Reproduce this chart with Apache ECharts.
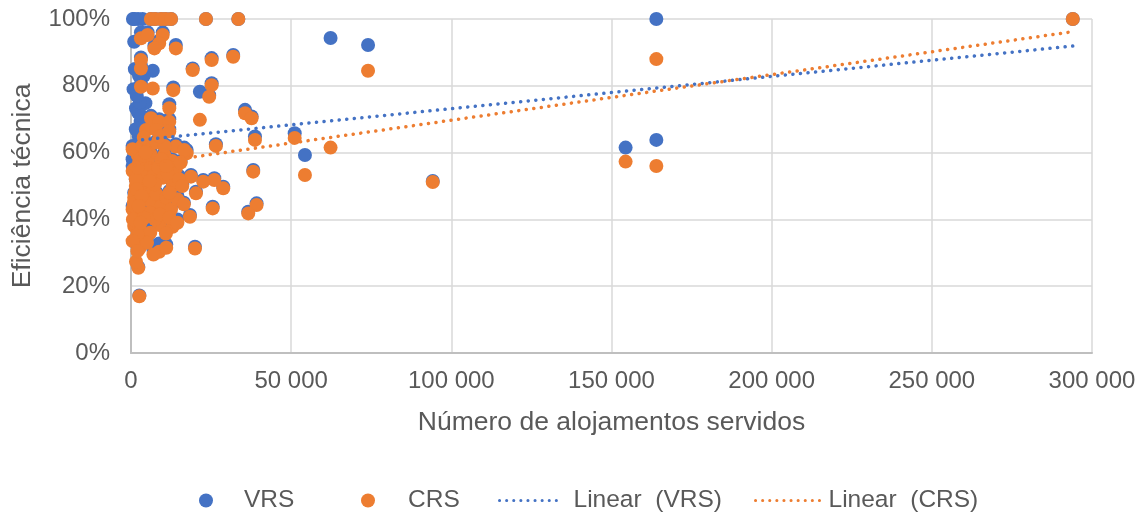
<!DOCTYPE html>
<html>
<head>
<meta charset="utf-8">
<script src="https://cdn.jsdelivr.net/npm/echarts@6/dist/echarts.min.js"></script>
<style>
html,body{margin:0;padding:0;background:#fff;}
#chart{width:1143px;height:513px;}
</style>
</head>
<body>
<div id="chart"></div>
<script>
// Número de alojamentos servidos per unit
const alojamentos = [
  1000, 2200, 3600, 6200, 7600, 9400, 10800, 12500, 23400, 33500,
  294000, 164000, 62300, 74000, 154400, 164000, 54300, 51100, 94200, 38700,
  35600, 37650, 38160, 39200, 36600, 31900, 25170, 25170, 24400, 21500,
  19250, 26500, 28800, 26000, 22560, 20280, 18720, 25500, 18400, 19970,
  17370, 14000, 13200, 11950, 2600, 2290, 1000, 3100, 5200, 9900,
  8800, 7300, 3100, 3100, 6800, 3100, 1560, 3650, 4500, 2200,
  6240, 8800, 11950, 4680, 7800, 11950, 14000, 16600, 2100, 6240,
  10400, 14000, 2600, 8800, 13000, 3600, 10900, 8800, 2600, 1560,
  500, 1500, 2500, 4000, 5500, 7000, 8500, 10000, 11500, 13000,
  1000, 3000, 5000, 6500, 8000, 9500, 11000, 12500, 1800, 4200,
  6000, 7500, 9000, 12000, 500, 3500, 5500, 8000, 10500, 4000,
  9000, 3000, 14500, 15000, 6000, 11000, 5000, 7000, 12800, 15500,
  500, 2000, 600, 1200, 2500, 800, 1500, 2800, 900, 4000,
  3000, 500, 2000, 16000, 14500, 16500, 9500, 4500, 7500, 2000,
  11000, 5800, 12000, 1800, 3300, 2400
];
// Eficiência técnica (%) – VRS
const eficienciaVRS = [
  100, 100, 100, 100, 100, 100, 100, 100, 100, 100,
  100, 100, 94.3, 92.2, 61.5, 63.8, 59.3, 65.8, 51.5, 64.8,
  72.8, 70.8, 54.8, 44.8, 42.3, 89.2, 88.3, 80.8, 77.2, 78.2,
  85.2, 62.5, 49.8, 52.3, 51.8, 48.3, 53.3, 43.8, 41.3, 31.8,
  60.8, 92.2, 79.5, 74.5, 17.2, 25.8, 93.2, 96, 96, 96,
  93.5, 92, 88.5, 86, 84.5, 80.5, 73.3, 68.3, 74.8, 72,
  71, 70, 70, 67.5, 67.5, 67, 62.5, 61.5, 60, 60,
  60, 56, 38.5, 39, 38.5, 35.5, 36.5, 32.8, 31.8, 33,
  56, 52, 58, 55, 57, 54, 56, 53, 54, 51,
  48, 47, 49, 46, 48, 45, 47, 44, 43, 42,
  43, 41, 42, 41.5, 62, 63, 62, 63.5, 62.5, 66,
  65.5, 58, 47, 53, 38, 32.5, 34.5, 31, 58, 57.5,
  44, 52.5, 100, 85, 83, 79, 67, 75, 60.5, 83,
  69.5, 58, 43, 50.5, 40, 45, 58.5, 60.5, 51, 56.5,
  56.5, 52, 48.5, 77, 71, 65
];
// Eficiência técnica (%) – CRS
const eficienciaCRS = [
  55, 48, 50, 100, 100, 100, 100, 100, 100, 100,
  100, 88, 61.5, 84.5, 57.3, 56, 53.3, 64.4, 51.2, 63.8,
  71.8, 70.3, 54.3, 44.3, 41.8, 88.7, 87.7, 80.2, 76.7, 69.8,
  84.7, 62, 49.3, 51.8, 51.3, 47.8, 52.8, 43.3, 40.8, 31.3,
  59.8, 91.2, 78.7, 73.3, 17, 25.5, 38, 94.2, 95.2, 95.2,
  92.7, 91.2, 87.7, 85.2, 79.2, 79.7, 45, 42, 52, 36,
  70.3, 69.2, 69.2, 66.8, 66.8, 66.3, 61.8, 60.8, 59.3, 59.3,
  59.3, 55.3, 37.8, 38.3, 37.8, 34.8, 35.8, 30.3, 31.3, 27.3,
  54.5, 50, 57, 54, 56.5, 53, 55.5, 52.5, 53.5, 50,
  46.5, 45.5, 48, 45, 47.5, 44, 46.5, 43, 41.5, 40.5,
  42, 40, 41.5, 40.5, 61, 62, 61.5, 63, 62, 64.5,
  64.8, 50.5, 46, 52, 36, 31.5, 33, 29.5, 57.5, 57,
  43, 35.5, 40, 48, 46, 44, 52, 58, 45, 40.5,
  39, 33.5, 30.5, 50, 39, 44.5, 58, 60, 50.5, 55.5,
  56, 51.5, 48, 49, 47, 44
];
// Linear trend lines: [x, %]
const trendVRS = [[1250, 63.6], [294000, 91.9]];
const trendCRS = [[1250, 56.2], [294000, 96.2]];
// Axis ticks
const xTicks = { min: 0, max: 300000, interval: 50000 };
const yTicks = { min: 0, max: 100, interval: 20 };

const BLUE = '#4472C4', ORANGE = '#ED7D31', TXT = '#595959';
const FONT = 'Liberation Sans, Arial, sans-serif';

const vrsData = alojamentos.map((x, i) => [x, eficienciaVRS[i]]);
const crsData = alojamentos.map((x, i) => [x, eficienciaCRS[i]]);

const fmtThousands = v => String(v).replace(/\B(?=(\d{3})+(?!\d))/g, ' ');

const chart = echarts.init(document.getElementById('chart'), null, { renderer: 'canvas' });

const lt = pad => ({ color: TXT, fontSize: 24.5, fontFamily: FONT, padding: [0, 0, 0, pad] });

chart.setOption({
  animation: false,
  backgroundColor: '#fff',
  grid: { left: 131, right: 51, top: 19, bottom: 160, containLabel: false },
  xAxis: {
    type: 'value', min: xTicks.min, max: xTicks.max, interval: xTicks.interval,
    name: 'Número de alojamentos servidos', nameLocation: 'middle', nameGap: 56,
    nameTextStyle: { color: TXT, fontSize: 26.5, fontFamily: FONT },
    axisLine: { show: true, lineStyle: { color: '#BFBFBF', width: 2 } },
    axisTick: { show: false },
    splitLine: { show: true, lineStyle: { color: '#D9D9D9', width: 1.5 } },
    axisLabel: { color: TXT, fontSize: 24, fontFamily: FONT, margin: 16, formatter: fmtThousands }
  },
  yAxis: {
    type: 'value', min: yTicks.min, max: yTicks.max, interval: yTicks.interval,
    name: 'Eficiência técnica', nameLocation: 'middle', nameGap: 95,
    nameTextStyle: { color: TXT, fontSize: 26.5, fontFamily: FONT },
    axisLine: { show: true, lineStyle: { color: '#BFBFBF', width: 2 } },
    axisTick: { show: false },
    splitLine: { show: true, lineStyle: { color: '#D9D9D9', width: 1.5 } },
    axisLabel: { color: TXT, fontSize: 24, fontFamily: FONT, margin: 21, formatter: '{value}%' }
  },
  legend: [
    { data: ['VRS'], left: 199, top: 488, padding: 0, itemWidth: 14, itemHeight: 14, textStyle: lt(26) },
    { data: ['CRS'], left: 361, top: 488, padding: 0, itemWidth: 14, itemHeight: 14, textStyle: lt(28) },
    { data: ['Linear  (VRS)'], left: 498, top: 488, padding: 0, itemWidth: 63, itemHeight: 14,
      itemStyle: { opacity: 0 }, lineStyle: { width: 3, type: [0.1, 7], cap: 'round' }, textStyle: lt(6) },
    { data: ['Linear  (CRS)'], left: 754, top: 488, padding: 0, itemWidth: 64, itemHeight: 14,
      itemStyle: { opacity: 0 }, lineStyle: { width: 3, type: [0.1, 7], cap: 'round' }, textStyle: lt(4) }
  ],
  series: [
    { name: 'VRS', type: 'scatter', data: vrsData, symbol: 'circle', symbolSize: 14,
      itemStyle: { color: BLUE, opacity: 1 }, z: 2 },
    { name: 'CRS', type: 'scatter', data: crsData, symbol: 'circle', symbolSize: 14,
      itemStyle: { color: ORANGE, opacity: 1 }, z: 3 },
    { name: 'Linear  (VRS)', type: 'line', data: trendVRS, symbol: 'none', showSymbol: false, z: 4,
      lineStyle: { color: BLUE, width: 3.5, type: [0.1, 7.5], cap: 'round' }, itemStyle: { color: BLUE } },
    { name: 'Linear  (CRS)', type: 'line', data: trendCRS, symbol: 'none', showSymbol: false, z: 4,
      lineStyle: { color: ORANGE, width: 3.5, type: [0.1, 7.5], cap: 'round' }, itemStyle: { color: ORANGE } }
  ]
});
</script>
</body>
</html>
